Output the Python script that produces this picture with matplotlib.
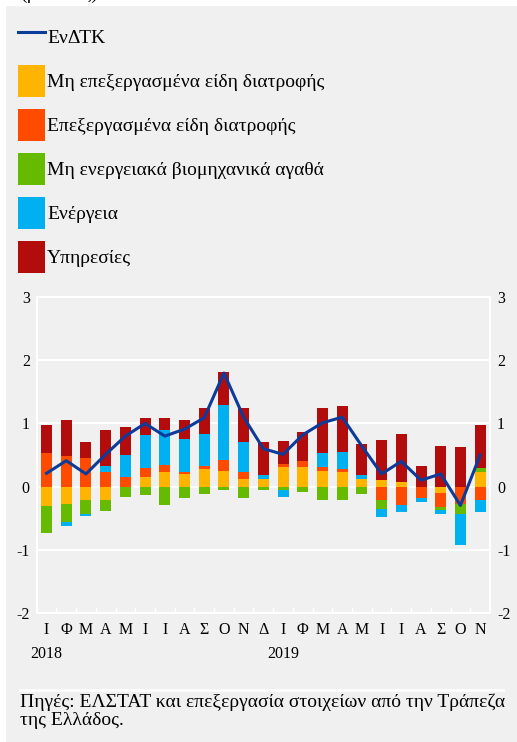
import numpy as np
import matplotlib
matplotlib.use("Agg")
import matplotlib.pyplot as plt
from matplotlib.patches import Rectangle, Patch
from matplotlib.lines import Line2D

plt.rcParams['font.family'] = ['Liberation Serif', 'DejaVu Serif']

months = ["Ι", "Φ", "Μ", "Α", "Μ", "Ι", "Ι", "Α", "Σ", "Ο", "Ν", "Δ",
          "Ι", "Φ", "Μ", "Α", "Μ", "Ι", "Ι", "Α", "Σ", "Ο", "Ν"]
years = {0: "2018", 12: "2019"}

unprocessed = [-0.31, -0.27, -0.22, -0.22, 0.0, 0.15, 0.23, 0.20, 0.28, 0.25, 0.12, 0.12,
               0.31, 0.31, 0.25, 0.23, 0.12, 0.10, 0.07, 0.0, -0.10, 0.0, 0.23]
processed = [0.53, 0.48, 0.45, 0.23, 0.15, 0.14, 0.11, 0.03, 0.05, 0.17, 0.11, 0.0,
             0.05, 0.09, 0.06, 0.05, 0.0, -0.22, -0.30, -0.18, -0.22, -0.27, -0.22]
nonenergy = [-0.43, -0.29, -0.22, -0.16, -0.16, -0.13, -0.29, -0.18, -0.12, -0.05, -0.18, -0.05,
             -0.05, -0.08, -0.21, -0.21, -0.12, -0.13, 0.0, 0.0, -0.05, -0.17, 0.06]
energy = [0.0, -0.06, -0.03, 0.09, 0.35, 0.53, 0.55, 0.52, 0.50, 0.88, 0.47, 0.06,
          -0.11, 0.0, 0.22, 0.27, 0.06, -0.13, -0.11, -0.06, -0.06, -0.49, -0.19]
services = [0.44, 0.57, 0.25, 0.57, 0.45, 0.27, 0.20, 0.31, 0.41, 0.52, 0.54, 0.53,
            0.36, 0.47, 0.71, 0.72, 0.49, 0.64, 0.77, 0.33, 0.65, 0.62, 0.68]
hicp = [0.21, 0.41, 0.20, 0.51, 0.80, 1.00, 0.80, 0.91, 1.09, 1.80, 1.10, 0.60,
        0.51, 0.82, 1.01, 1.10, 0.64, 0.20, 0.40, 0.10, 0.20, -0.30, 0.50]

series = [
    ("Μη επεξεργασμένα είδη διατροφής", unprocessed, "#FFB400"),
    ("Επεξεργασμένα είδη διατροφής", processed, "#FF4B00"),
    ("Μη ενεργειακά βιομηχανικά αγαθά", nonenergy, "#66BB00"),
    ("Ενέργεια", energy, "#00B0F0"),
    ("Υπηρεσίες", services, "#B30C0C"),
]
line_label = "ΕνΔΤΚ"
line_color = "#0D3B99"
bg = "#F0F0F0"

W, H = 517, 742
fig = plt.figure(figsize=(W / 100, H / 100), dpi=100)
fig.patches.append(Rectangle((6 / W, 0), 1, (H - 6) / H, transform=fig.transFigure,
                             facecolor=bg, edgecolor="none", zorder=-10))
fig.text(20 / W, 1 + 1 / H, "(μονάδες)", fontsize=14, va="baseline", ha="left")

ax_l, ax_r, ax_t, ax_b = 36.7, 490, 297.3, 612.7
ax = fig.add_axes([ax_l / W, 1 - ax_b / H, (ax_r - ax_l) / W, (ax_b - ax_t) / H])
ax.set_facecolor(bg)

x = np.arange(len(months))
pos_bottom = np.zeros(len(x))
neg_bottom = np.zeros(len(x))
handles = [Line2D([], [], color=line_color, lw=2.2)]
labels = [line_label]
for name, vals, col in series:
    v = np.array(vals)
    bottom = np.where(v >= 0, pos_bottom, neg_bottom)
    ax.bar(x, v, width=0.56, bottom=bottom, color=col, zorder=3, linewidth=0)
    pos_bottom += np.where(v >= 0, v, 0)
    neg_bottom += np.where(v < 0, v, 0)
    handles.append(Patch(facecolor=col, edgecolor="none"))
    labels.append(name)

ax.plot(x, hicp, color=line_color, lw=2.2, zorder=4)

ax.set_xlim(-0.5, len(x) - 0.5)
ax.set_ylim(-2, 3)
ax.set_yticks([-2, -1, 0, 1, 2, 3])
ax.set_yticklabels(["-2", "-1", "0", "1", "2", "3"])
ax.yaxis.grid(True, color="white", lw=1.5, zorder=1)
ax.set_axisbelow(True)
for s in ax.spines.values():
    s.set_color("white")
    s.set_linewidth(1.5)
ax.tick_params(axis="y", length=0, labelsize=11.5, pad=5, labelright=True)
ax.set_xticks(x)
ax.set_xticklabels(months, fontsize=11.5)
ax.tick_params(axis="x", which="major", length=0, pad=7)
ax.set_xticks(np.arange(len(x) + 1) - 0.5, minor=True)
ax.tick_params(axis="x", which="minor", direction="in", length=4, color="white", width=1)

for i, yr in years.items():
    ax.text(i, -2.52, yr, fontsize=11.5, ha="center", va="top", clip_on=False)

fs = 14
fig.legend(handles, labels, loc="upper left", bbox_to_anchor=(18 / W, 1 - 21 / H),
           bbox_transform=fig.transFigure, frameon=False, fontsize=fs,
           handlelength=1.39, handleheight=2.15, labelspacing=0.62,
           handletextpad=0.1, borderpad=0, borderaxespad=0)

fig.add_artist(Line2D([20 / W, 503 / W], [1 - 690 / H, 1 - 690 / H],
                      transform=fig.transFigure, color="white", lw=2))
fig.text(20 / W, 1 - 694 / H,
         "Πηγές: ΕΛΣΤΑΤ και επεξεργασία στοιχείων από την Τράπεζα\nτης Ελλάδος.",
         fontsize=14.0, va="top", ha="left", linespacing=1.07)

fig.savefig("out.png", dpi=100, facecolor="white")
